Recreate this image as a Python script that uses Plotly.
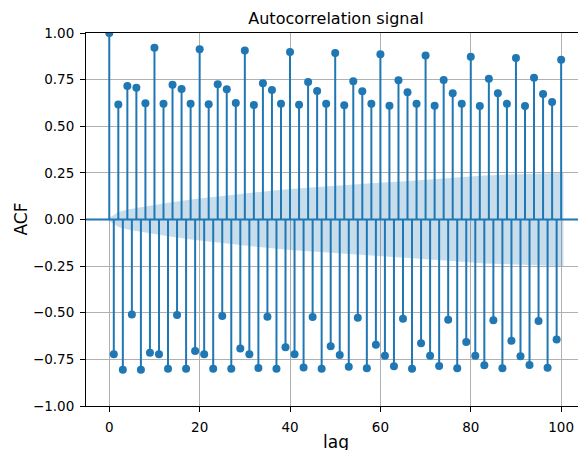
import plotly.graph_objects as go

# ---- data ----
lags = list(range(101))
acf_values = [
    1.000, -0.723, 0.616, -0.805, 0.716, -0.510, 0.707, -0.805, 0.623, -0.714,
    0.921, -0.723, 0.620, -0.800, 0.723, -0.512, 0.700, -0.800, 0.620, -0.705,
    0.913, -0.723, 0.618, -0.800, 0.725, -0.517, 0.698, -0.800, 0.625, -0.692,
    0.906, -0.722, 0.614, -0.796, 0.730, -0.521, 0.694, -0.800, 0.620, -0.685,
    0.898, -0.723, 0.615, -0.793, 0.737, -0.523, 0.689, -0.800, 0.620, -0.680,
    0.893, -0.727, 0.612, -0.789, 0.741, -0.527, 0.687, -0.798, 0.620, -0.671,
    0.886, -0.730, 0.610, -0.787, 0.746, -0.532, 0.682, -0.800, 0.620, -0.664,
    0.880, -0.730, 0.610, -0.786, 0.748, -0.537, 0.677, -0.798, 0.620, -0.657,
    0.873, -0.730, 0.608, -0.782, 0.755, -0.540, 0.677, -0.797, 0.620, -0.650,
    0.866, -0.733, 0.608, -0.780, 0.760, -0.544, 0.673, -0.795, 0.630, -0.643,
    0.857,
]
# confidence band (upper half-width) read at a few lags
band_lags = [-0.5, 1, 2, 4, 8, 13, 19, 25, 32, 40, 49, 58, 67, 75, 83, 92, 100.5]
band_upper = [0.0, 0.025, 0.040, 0.053, 0.070, 0.090, 0.110, 0.128, 0.145, 0.163,
              0.180, 0.194, 0.208, 0.221, 0.236, 0.244, 0.250]

x_ticks = [0, 20, 40, 60, 80, 100]
y_ticks = [-1.0, -0.75, -0.5, -0.25, 0.0, 0.25, 0.5, 0.75, 1.0]

title_text = "Autocorrelation signal"
x_label = "lag"
y_label = "ACF"

C0 = "#1f77b4"
FONT = "DejaVu Sans"

# page body has an 8px default margin: size the figure so it ends at the window edge
W, H = 578, 442

fig = go.Figure()

# confidence band
band_x = band_lags + band_lags[::-1]
band_y = band_upper + [-v for v in band_upper[::-1]]
fig.add_trace(go.Scatter(
    x=band_x, y=band_y, fill="toself", mode="lines",
    line=dict(width=0), fillcolor="rgba(31,119,180,0.25)",
    hoverinfo="skip", showlegend=False,
))

# stems
stem_x, stem_y = [], []
for lg, v in zip(lags, acf_values):
    stem_x += [lg, lg, None]
    stem_y += [0, v, None]
fig.add_trace(go.Scatter(
    x=stem_x, y=stem_y, mode="lines",
    line=dict(color=C0, width=2), showlegend=False, hoverinfo="skip",
))

# markers
fig.add_trace(go.Scatter(
    x=lags, y=acf_values, mode="markers",
    marker=dict(color=C0, size=8, line=dict(width=0)), showlegend=False,
))

# zero line
fig.add_hline(y=0, line=dict(color=C0, width=2))

fig.update_layout(
    width=W, height=H,
    margin=dict(l=78, r=0, t=25, b=44),
    plot_bgcolor="white", paper_bgcolor="white",
    font=dict(family=FONT, size=13.5, color="black"),
    title=dict(text=title_text, x=0.5, xref="paper", xanchor="center",
               y=1 - 10 / H, yref="container", yanchor="middle",
               font=dict(family=FONT, size=16, color="black")),
    xaxis=dict(range=[-5.15, 105.5], tickvals=x_ticks, showgrid=True,
               gridcolor="#b0b0b0", gridwidth=0.8, zeroline=False,
               showline=True, linecolor="black", linewidth=1, mirror=True,
               ticks="outside", ticklen=5, tickcolor="black", tickwidth=1,
               ticklabelstandoff=4),
    yaxis=dict(range=[-1, 1], tickvals=y_ticks, tickformat=".2f",
               showgrid=True, gridcolor="#b0b0b0", gridwidth=0.8,
               zeroline=False, showline=True, linecolor="black", linewidth=1,
               mirror=False, ticks="outside", ticklen=5, tickcolor="black",
               tickwidth=1, ticklabelstandoff=3),
    annotations=[
        dict(text=y_label, xref="paper", yref="paper", x=0, y=0.5,
             xanchor="center", yanchor="middle", xshift=-66, textangle=-90,
             showarrow=False, font=dict(family=FONT, size=17, color="black")),
        dict(text=x_label, xref="paper", yref="paper", x=0.5, y=0,
             xanchor="center", yanchor="middle", yshift=-36,
             showarrow=False, font=dict(family=FONT, size=17, color="black")),
    ],
)

fig.write_html("out.html")
